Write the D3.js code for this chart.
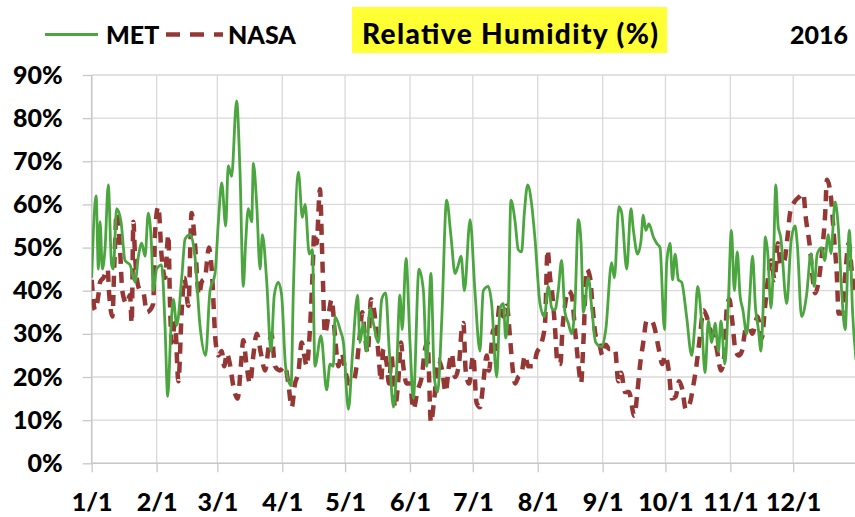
<!DOCTYPE html>
<html>
<head>
<meta charset="utf-8">
<script src="https://cdn.jsdelivr.net/npm/d3@7"></script>
<style>
body { margin: 0; background: #fff; }
text { font-family: Lato, "Open Sans", sans-serif; font-weight: 900; fill: #000; }
</style>
</head>
<body>
<script>
// y ticks (percent)
var yTicks = [0, 10, 20, 30, 40, 50, 60, 70, 80, 90];

// MET relative humidity, day of year 2016 -> %
var metDays = [0,2.1,3.2,4,5.1,6.4,7.9,9.5,10.3,11.9,
  14,15.9,18.3,20.7,22.3,23.9,25.5,27,28.6,29.4,
  31,33.4,35,36.3,37.9,39,40.6,43,44.6,47,
  49.3,51.7,54.4,56.5,58.9,60.5,62.1,64,65.2,66.8,
  69.2,70.8,72.4,73.5,74.8,76.4,77.2,78.8,80.4,81.5,
  83.6,85.6,87.2,89.1,90.7,92.6,95.2,96.3,98.7,100.6,
  101.9,103.9,105.4,106.6,109.5,112.2,113.8,115.4,116.2,118.6,
  120.2,122.6,124.5,127,128.1,129.7,131.3,132.9,134.5,136.9,
  138.5,140.4,142,144.1,145.6,147.2,148.3,150.1,152,153.6,
  156.3,158.4,160,162,163.6,165.2,167.1,169.5,171.6,173.5,
  174.8,176.4,178,180.7,183,185.4,187,189.4,191,193.4,
  195,196.6,197.7,199,200.2,202.2,203.7,205.3,206.6,208.2,
  210.1,211.7,214.1,216.2,218,219.7,221.2,222.8,224.4,226,
  227.6,229.2,230.8,232.4,233.7,234.8,237.2,238.8,240.7,243.5,
  245.5,248.3,249.6,251.8,253.1,255.5,257.5,258.7,260.7,262.3,
  263.4,264.6,266.1,268.2,269.8,271.4,273.5,274.6,276.2,277.4,
  278.6,280.2,281.7,284.1,286.5,288.1,289.4,291.3,292.9,294.5,
  296.1,297.7,299.3,300.5,302.4,304,305.5,306.9,308.3,309.6,
  311,312.8,314,315.6,317,318.4,319.6,320.5,321.7,322.8,
  324.4,325.5,326.7,327.8,329,331.9,334,335.9,337,339,
  341.4,343.5,345,346.5,348.6,350,351.8,353,355,356.5,
  358.2,359.8,361.8,363.4,365];
var metRH = [43,62,45,56,45,50,64.5,46,45,59,
  56,47,46,42,48,51,48,58,50,40,
  45,46,32,15.5,32,38,32,43,52,53,
  48,32,25,40,44,56,65,55,69,66.5,
  84,68,41,51,59,56,69.5,60,45,53,
  42,26,39,42,39,22.5,18,40,67.5,57,
  60,48.5,49.5,22.5,29.5,17,23,22.5,34,31,
  28,12.5,25,39,28,32.5,26,36,32.5,28,
  38,39.5,27,13,21.5,39,31,47.5,28,15,
  45,40,22.5,44,20,16.5,32.5,61,52.5,44,
  45.5,48,40,56.5,40,26,40,41,37,20,
  36,37,29,37,61,56,49.5,49,58,64.5,
  60,52,37,34,41,36,35.5,40,47,35,
  32.5,30,37,56.5,51,35,43,36,28,27,
  31,46.5,43,59.5,58,45,59,54,48.5,51.5,
  57.5,54,55.5,52.5,51,50,31,46.5,51,42.5,
  48.5,42.5,42,34,25,32.5,41,32.5,21,33,
  28,32.5,26,33,23,37,54,40,49,39,
  35.5,30,36.5,48,36,31,26,34,52.5,49,
  36,45.5,64.5,55,52.5,37,51.5,55,50.5,34,
  39,48.6,41,48.6,50,47,53,48.6,60.6,55,
  39.4,31,54,34.7,24];

// NASA relative humidity, day of year 2016 -> %
var nasaDays = [0,1.6,3.2,4,5.6,7.6,8.3,9.9,10.8,11.9,
  13.5,14.6,16.7,18.3,19.1,19.9,20.7,21.5,23.1,24.7,
  26.3,27.8,29.4,30.2,31.8,33.4,35,36.6,37.4,38.2,
  39.8,41.4,43,44.2,46.2,47.7,49.3,51.2,52.5,54.1,
  56,57.3,59.2,60.5,62.1,63.3,64.5,66,67.6,69.7,
  71.3,72.4,74,75.6,77.2,78.8,80.8,82.8,84.8,85.9,
  87.5,89.9,92.3,93.9,95.5,97.1,98.7,100.3,101.5,102.7,
  103.9,105.4,106.3,107.4,109,110.1,111.4,113,114.6,116.2,
  117.8,119.4,121.3,122.9,125,126.5,128.1,129.2,130.5,131.8,
  133.4,134.5,135.6,136.9,138.2,139.3,140.9,142,143.2,144.8,
  146.4,147.7,148.8,150.4,152,153.6,155.7,157.6,159.2,160.4,
  162,163.6,165.5,167.4,169,170.6,171.9,173.5,175.4,176.7,
  177.5,178.6,180.2,182.2,183.8,185.4,187,188.6,189.7,191.8,
  192.9,193.9,195,196.6,198.2,199.8,200.9,202.2,203.7,205.3,
  206.9,208.5,210.9,212.5,214.9,216.5,217.7,218.9,220,221.3,
  222.5,223.8,224.8,226,227.6,229.2,230.8,232.4,233.7,234.8,
  236.4,238,239.1,240.7,242.3,243.9,245.5,247,249.9,251.5,
  252.8,254.7,256.6,259.1,260.7,261.8,263.4,265,267.4,269,
  270.6,272.5,273.8,275.7,277,278.9,280.5,282.1,283.7,285.7,
  287.3,288.9,290.5,292.1,293.7,295.3,296.9,298.5,300.5,302.1,
  303.3,304.5,305.9,307.5,309,310.5,312.3,314,315.5,318,
  320,321.5,323,324.5,326.1,327.7,329,330.8,332.4,333.5,
  335.6,338,339.8,341,343,344.3,345.5,347.4,349,350.3,
  351.1,353,354.6,355.8,356.7,358.3,359.9,361.5,363.1,364.2,
  365];
var nasaRH = [42.5,35.5,39,42,43,45,39.5,34,46,58,
  50,40,37,39,32.5,56,48,43,40,39.5,
  35,35.5,37,53,59.5,48,43,53,37,28,
  32.5,19,35.5,43,36.5,58,51,39,42,43,
  50,45,28,25,26,22.5,25.5,23,18,15,
  23,28.5,22.5,18.5,25,30,25.5,21.5,28,30,
  22.5,21.5,22.5,18.5,13,18.5,21,28,25,22.5,
  28.5,43,53.5,51,63.5,48,30,34,38,29.5,
  22.5,25.5,21,18.5,19,22.5,30,35,29.5,25.5,
  38,36.5,32.5,25.5,19,26.5,23,18.5,25,13,
  19,28,22.5,18.5,18.5,12.5,17,20,26.5,28,
  9.5,15,24,21.5,16.5,22.5,25.5,20,23,31,
  32.5,21.5,18.5,25,14,13,18.5,25,21.5,31,
  26.5,33,37,34,36.5,29,22.5,18.5,20,21,
  25,22.5,22.5,25.5,28,32.5,49.5,43,39,31,
  23,23,31,36.5,40,39,31,23,18.5,28,
  45,43,37,29.5,28,25,27.5,26.5,26.5,19,
  21,16.5,16.5,11,17,22.5,28,33,33,31,
  27,23,25,21,15,15.5,19,17,12.5,14,
  18,23,29.5,35.5,34,31,29.5,26.5,21.5,25,
  36,38,33,26,25,26,31,31.6,30,34,
  29,36,43,47,42.5,51,46,47,53,58,
  60.6,61.8,62.6,57,50,43,39.4,43,50,58,
  65.7,61.8,51.7,44,34.7,34.7,44,51,44,39.4,
  40];

var W = 855, H = 517;
var plot = {left: 91.7, top: 75, bottom: 463.3, right: 855};
var green = "#4ca640", red = "#953735", grid = "#d9d9d9";

var svg = d3.select("body").append("svg")
    .attr("width", W)
    .attr("height", H);

var start = new Date(2016, 0, 1);
function toDate(d) { return new Date(start.getTime() + d * 864e5); }

var x = d3.scaleTime()
    .domain([start, new Date(2016, 11, 31)])
    .range([plot.left, plot.left + 365 * 2.094]);

var y = d3.scaleLinear()
    .domain([0, 90])
    .range([plot.bottom, plot.top]);

var months = x.ticks(d3.timeMonth.every(1));

// gridlines
svg.append("g").selectAll("line")
    .data(yTicks).enter().append("line")
    .attr("x1", plot.left).attr("x2", plot.right)
    .attr("y1", d => y(d)).attr("y2", d => y(d))
    .attr("stroke", grid).attr("stroke-width", 1.3);

svg.append("g").selectAll("line")
    .data(months).enter().append("line")
    .attr("x1", d => x(d)).attr("x2", d => x(d))
    .attr("y1", plot.top).attr("y2", plot.bottom)
    .attr("stroke", grid).attr("stroke-width", 1.3);

// axes
svg.append("g")
    .attr("transform", "translate(0," + plot.bottom + ")")
    .call(d3.axisBottom(x).tickValues(months)
        .tickFormat(d3.timeFormat("%-m/%-d"))
        .tickSize(9).tickPadding(21));

svg.append("g")
    .attr("transform", "translate(" + plot.left + ",0)")
    .call(d3.axisLeft(y).tickValues(yTicks)
        .tickFormat(d => d + "%")
        .tickSize(9).tickPadding(20));

svg.selectAll(".domain").remove();
svg.selectAll(".tick line").attr("stroke", "#c8c8c8").attr("stroke-width", 1.3);
svg.selectAll(".tick text").style("font-size", "25px").attr("fill", "#000");

svg.append("line").attr("x1", plot.left).attr("x2", plot.right)
    .attr("y1", plot.bottom).attr("y2", plot.bottom)
    .attr("stroke", "#c8c8c8").attr("stroke-width", 1.5);
svg.append("line").attr("x1", plot.left).attr("x2", plot.left)
    .attr("y1", plot.top).attr("y2", plot.bottom)
    .attr("stroke", "#c8c8c8").attr("stroke-width", 1.5);

// series
svg.append("clipPath").attr("id", "plotclip")
    .append("rect").attr("x", plot.left).attr("y", 0)
    .attr("width", plot.right - plot.left).attr("height", plot.bottom + 5);

var line = d3.line()
    .x(d => x(toDate(d[0])))
    .y(d => y(d[1]))
    .curve(d3.curveMonotoneX);

var nasa = nasaDays.map((d, i) => [d, nasaRH[i]]);
var met = metDays.map((d, i) => [d, metRH[i]]);

svg.append("path")
    .datum(nasa)
    .attr("clip-path", "url(#plotclip)")
    .attr("d", line)
    .attr("fill", "none")
    .attr("stroke", red)
    .attr("stroke-width", 4.5)
    .attr("stroke-dasharray", "11,8");

svg.append("path")
    .datum(met)
    .attr("clip-path", "url(#plotclip)")
    .attr("d", line)
    .attr("fill", "none")
    .attr("stroke", green)
    .attr("stroke-width", 2.8);

// legend
svg.append("line").attr("x1", 45).attr("x2", 98)
    .attr("y1", 34.5).attr("y2", 34.5)
    .attr("stroke", green).attr("stroke-width", 2.8);
svg.append("text").attr("x", 106).attr("y", 43.5)
    .style("font-size", "25px").text("MET");

svg.append("line").attr("x1", 166).attr("x2", 223)
    .attr("y1", 34.5).attr("y2", 34.5)
    .attr("stroke", red).attr("stroke-width", 4.5)
    .attr("stroke-dasharray", "14,10");
svg.append("text").attr("x", 228).attr("y", 43.5)
    .style("font-size", "25px").text("NASA");

// title
svg.append("rect").attr("x", 352).attr("y", 7)
    .attr("width", 315).attr("height", 46)
    .attr("fill", "#ffff33");
svg.append("text").attr("x", 362).attr("y", 44)
    .style("font-size", "28px")
    .attr("textLength", 296).attr("lengthAdjust", "spacing")
    .text("Relative Humidity (%)");

svg.append("text").attr("x", 848).attr("y", 43.5)
    .attr("text-anchor", "end")
    .style("font-size", "25px").text("2016");
</script>
</body>
</html>
